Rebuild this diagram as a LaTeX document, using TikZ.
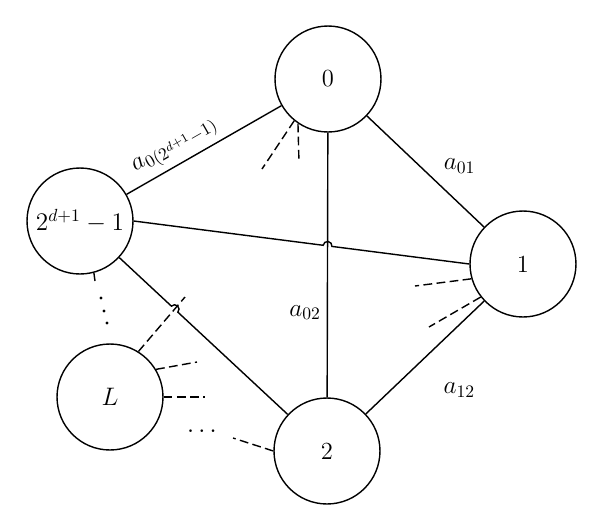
\documentclass[tikz,border=0pt]{standalone}
\usepackage{tikz}
\usetikzlibrary{calc}

\begin{document}
\begin{tikzpicture}[x=0.02cm, y=0.02cm, font=\fontsize{14}{17}\selectfont]
        \tikzstyle{vertex} = [circle, draw=black, line width=0.8pt, minimum size=2.12cm, inner sep=0pt]
        \tikzstyle{link} = [line width=0.8pt]
        \tikzstyle{stub} = [line width=0.8pt, dash pattern=on 5pt off 2.5pt]
        \useasboundingbox (0,0) rectangle (600,-529);

        \node (zero) [vertex] at (328,-79) {0};
        \node (one) [vertex] at (523,-264) {1};
        \node (two) [vertex] at (327,-451) {2};
        \node (big) [vertex] at (80,-221) {$2^{d+1}-1$};
        \node (L) [vertex] at (110,-397) {$L$};

        \draw [link] (big) -- (zero) node [pos=0.37, above, sloped] {$a_{0(2^{d+1}-1)}$};
        \draw [link] (zero) -- (one) node [pos=0.45, right=10pt] {$a_{01}$};
        \draw [link] (zero) -- (two) node [pos=0.68, left] {$a_{02}$};
        \draw [link] (one) -- (two) node [pos=0.48, below right, xshift=5.5pt, yshift=-12pt] {$a_{12}$};

        % crossing edges with a small hop
        \coordinate (Lend) at (185,-297);
        \coordinate (hopA) at (intersection of big.east--one.west and zero--two);
        \coordinate (hopB) at (intersection of big--two and L.58--Lend);
        \draw [link] (big.east) -- ($(hopA)!2.5pt!(big.east)$) arc [start angle=172.7, end angle=-7.3, radius=2.5pt] -- (one.west);
        \draw [link] (big) -- ($(hopB)!2.5pt!(big)$) arc [start angle=137, end angle=-43, radius=2.5pt] -- (two);

        % loose ends
        \coordinate (z1) at (262,-169);
        \coordinate (z2) at (299,-163);
        \coordinate (o1) at (415,-286);
        \coordinate (o2) at (429,-327);
        \coordinate (l2) at (197,-362);
        \coordinate (l3) at (205,-397);
        \coordinate (t1) at (233,-438);
        \coordinate (b1) at (95,-281);

        \draw [stub] (zero.231) -- (z1);
        \draw [stub] (zero.236) -- (z2);
        \draw [stub] (one.196) -- (o1);
        \draw [stub] (one.218) -- (o2);
        \draw [stub] (L.58) -- (Lend);
        \draw [stub] (L.31) -- (l2);
        \draw [stub] (L.east) -- (l3);
        \draw [stub] (two.west) -- (t1);
        \draw [link] (big.285) -- (b1);

        \foreach \x/\y in {101/298, 104/311, 107/323}
            \fill (\x,-\y) circle (0.9pt);
        \node (hdots) [anchor=base] at (202,-437) {$\cdots$};
    \end{tikzpicture}
\end{document}
